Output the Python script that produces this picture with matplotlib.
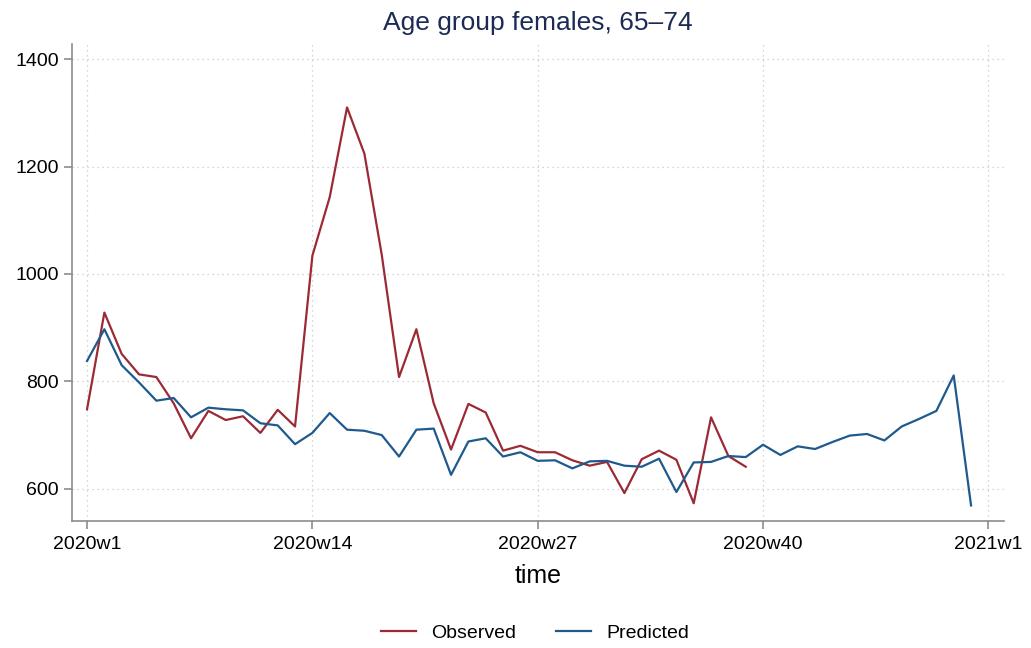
import numpy as np
import matplotlib.pyplot as plt

plt.rcParams['font.family'] = ['Liberation Sans', 'DejaVu Sans']

# weekly index: 0 = 2020w1, 52 = 2021w1
observed = [748, 928, 851, 813, 808, 759, 694, 745, 728, 735, 704, 747, 716,
            1034, 1143, 1310, 1224, 1036, 808, 897, 759, 673, 758, 742, 671,
            680, 668, 668, 653, 643, 650, 592, 655, 671, 654, 573, 733, 661, 641]
predicted = [838, 897, 830, 798, 764, 769, 733, 751, 748, 746, 722, 718, 683,
             704, 741, 710, 708, 700, 660, 710, 712, 626, 688, 694, 660, 668,
             652, 653, 638, 651, 652, 643, 641, 656, 594, 649, 650, 661, 659,
             682, 663, 679, 674, 687, 699, 702, 690, 716, 730, 745, 811, 569]
tick_pos = [0, 13, 26, 39, 52]
tick_labels = ['2020w1', '2020w14', '2020w27', '2020w40', '2021w1']
y_ticks = [600, 800, 1000, 1200, 1400]

red = '#9c2a36'
blue = '#1f5a8e'
axis_gray = '#8c8c8c'

fig = plt.figure(figsize=(10.31, 6.48), dpi=100)
ax = fig.add_axes([0.0698, 0.196, 0.904, 0.736])

ax.plot(np.arange(len(observed)), observed, color=red, lw=1.6, label='Observed')
ax.plot(np.arange(len(predicted)), predicted, color=blue, lw=1.6, label='Predicted')

ax.set_xlim(-0.87, 52.9)
ax.set_ylim(540, 1428)
ax.set_xticks(tick_pos)
ax.set_xticklabels(tick_labels)
ax.set_yticks(y_ticks)
ax.grid(True, color='#c8c8c8', ls=(0, (1, 3)), lw=0.9)
ax.set_axisbelow(True)

for s in ['top', 'right']:
    ax.spines[s].set_visible(False)
for s in ['left', 'bottom']:
    ax.spines[s].set_color(axis_gray)
    ax.spines[s].set_linewidth(1.2)
ax.tick_params(colors=axis_gray, labelcolor='black', labelsize=14, length=6, width=1.2)
ax.tick_params(axis='x', pad=5)

ax.set_xlabel('time', fontsize=18, labelpad=8)
ax.set_title('Age group females, 65\u201374', fontsize=19, color='#1c2b55', pad=10)

fig.legend(loc='center', bbox_to_anchor=(535 / 1031, 1 - 633 / 648), ncol=2, frameon=False,
           fontsize=14, handlelength=1.8, handletextpad=0.8, columnspacing=2.0)

fig.savefig('out.png', dpi=100)
